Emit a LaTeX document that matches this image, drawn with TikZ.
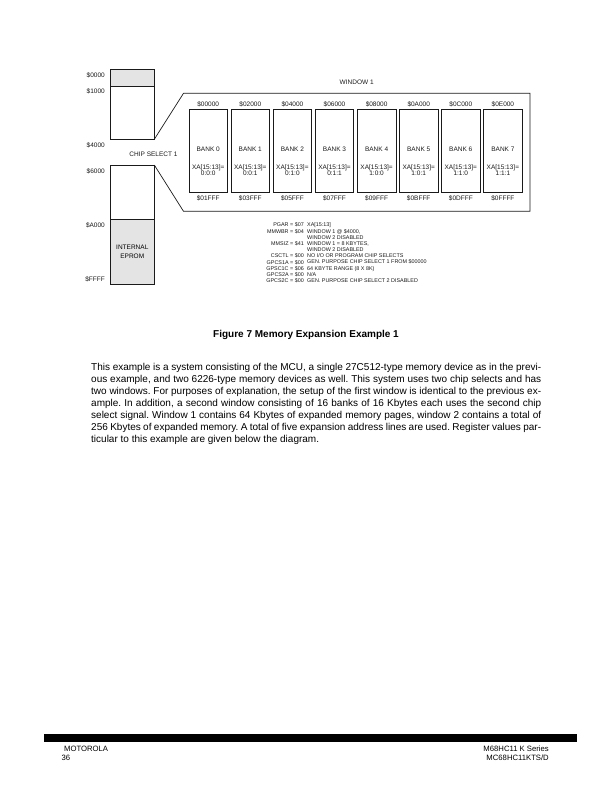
\documentclass[tikz,border=0pt]{standalone}
\usepackage{fontspec}
\setmainfont{Liberation Sans}
\usetikzlibrary{positioning}
\definecolor{shade}{HTML}{E4E4E4}
\definecolor{ink}{HTML}{1A1A1A}
\tikzset{
  memblk/.style={
    draw=ink, line width=0.6pt, fill=white,
    minimum width=44pt, inner sep=0pt, outer sep=0pt,
    align=center, font=\fontsize{6.5}{9.3}\selectfont
  },
  memtxt/.style={inner sep=0pt, text=ink, font=\fontsize{6.5}{7.5}\selectfont},
  bank/.style={
    draw=ink, line width=0.7pt,
    minimum width=38.5pt, minimum height=83.5pt,
    inner sep=0pt, outer sep=0pt, label distance=3.3pt
  },
  addrtop/.style={inner sep=0pt, text=ink, yshift=1.5pt, font=\fontsize{6.5}{7.5}\selectfont},
  addrbot/.style={inner sep=0pt, text=ink, yshift=-3pt, font=\fontsize{6.5}{7.5}\selectfont},
  banktxt/.style={inner sep=0pt, text=ink, align=center, font=\fontsize{6.5}{6.1}\selectfont},
  winline/.style={draw=ink, line width=0.7pt, line join=miter},
  regtxt/.style={inner sep=0pt, text=ink, font=\fontsize{5.4}{6.19}\selectfont},
  foot/.style={inner sep=0pt, font=\fontsize{7.7}{9}\selectfont}
}

\begin{document}
\begin{tikzpicture}[x=1pt, y=-1pt]
  \useasboundingbox (0,0) rectangle (612,792);
  % memory map
  \node[memblk, fill=shade, minimum height=16.7pt] (rom0) at (132.3,77.65) {};
  \node[memblk, minimum height=53.3pt, below=0pt of rom0] (ram1) {};
  \node[memblk, minimum height=54pt] (ram2) at (132.3,192) {};
  \node[memblk, fill=shade, line width=1pt, minimum height=65.7pt, below=0pt of ram2] (eprom) {INTERNAL\\EPROM};
  \node[memtxt, anchor=east] (a0000) at (105,75.7) {\$0000};
  \node[memtxt, anchor=east] (a1000) at (105,91.7) {\$1000};
  \node[memtxt, anchor=east] (a4000) at (105,145.7) {\$4000};
  \node[memtxt, anchor=east] (a6000) at (105,171.7) {\$6000};
  \node[memtxt, anchor=east] (aa000) at (105,225) {\$A000};
  \node[memtxt, anchor=east] (affff) at (105,279) {\$FFFF};
  \node[memtxt] (cs1) at (153.5,154) {CHIP SELECT 1};
  % window 1
  \coordinate (w1) at (183.5,93.3);
  \coordinate (w2) at (530,93.3);
  \coordinate (w3) at (530,211.3);
  \coordinate (w4) at (183.5,211.3);
  \draw[winline] (ram1.south east) -- (w1) -- (w2) -- (w3) -- (w4) -- (ram2.north east);
  \node[memtxt] (win1) at (356.7,82.7) {WINDOW 1};
  \node[bank, label={[addrtop]above:\$00000}, label={[addrbot]below:\$01FFF}, label={[banktxt, yshift=1.4pt]center:BANK 0}, label={[banktxt, yshift=-19.6pt]center:XA[15:13]=\\0:0:0}] (b0) at (208.2,150.75) {};
  \node[bank, right=3.6pt of b0, label={[addrtop]above:\$02000}, label={[addrbot]below:\$03FFF}, label={[banktxt, yshift=1.4pt]center:BANK 1}, label={[banktxt, yshift=-19.6pt]center:XA[15:13]=\\0:0:1}] (b1) {};
  \node[bank, right=3.6pt of b1, label={[addrtop]above:\$04000}, label={[addrbot]below:\$05FFF}, label={[banktxt, yshift=1.4pt]center:BANK 2}, label={[banktxt, yshift=-19.6pt]center:XA[15:13]=\\0:1:0}] (b2) {};
  \node[bank, right=3.6pt of b2, label={[addrtop]above:\$06000}, label={[addrbot]below:\$07FFF}, label={[banktxt, yshift=1.4pt]center:BANK 3}, label={[banktxt, yshift=-19.6pt]center:XA[15:13]=\\0:1:1}] (b3) {};
  \node[bank, right=3.6pt of b3, label={[addrtop]above:\$08000}, label={[addrbot]below:\$09FFF}, label={[banktxt, yshift=1.4pt]center:BANK 4}, label={[banktxt, yshift=-19.6pt]center:XA[15:13]=\\1:0:0}] (b4) {};
  \node[bank, right=3.6pt of b4, label={[addrtop]above:\$0A000}, label={[addrbot]below:\$0BFFF}, label={[banktxt, yshift=1.4pt]center:BANK 5}, label={[banktxt, yshift=-19.6pt]center:XA[15:13]=\\1:0:1}] (b5) {};
  \node[bank, right=3.6pt of b5, label={[addrtop]above:\$0C000}, label={[addrbot]below:\$0DFFF}, label={[banktxt, yshift=1.4pt]center:BANK 6}, label={[banktxt, yshift=-19.6pt]center:XA[15:13]=\\1:1:0}] (b6) {};
  \node[bank, right=3.6pt of b6, label={[addrtop]above:\$0E000}, label={[addrbot]below:\$0FFFF}, label={[banktxt, yshift=1.4pt]center:BANK 7}, label={[banktxt, yshift=-19.6pt]center:XA[15:13]=\\1:1:1}] (b7) {};
  % register values
  \node[regtxt, align=right, anchor=north east] (regname) at (304,222.7) {PGAR = \$07\\MMWBR = \$04\\~\\MMSIZ = \$41\\~\\CSCTL = \$00\\GPCS1A = \$00\\GPSC1C = \$06\\GPCS2A = \$00\\GPCS2C = \$00};
  \node[regtxt, align=left, anchor=north west] (regval) at (307,222.7) {XA[15:13]\\WINDOW 1 @ \$4000,\\WINDOW 2 DISABLED\\WINDOW 1 = 8 KBYTES,\\WINDOW 2 DISABLED\\NO I/O OR PROGRAM CHIP SELECTS\\GEN. PURPOSE CHIP SELECT 1 FROM \$00000\\64 KBYTE RANGE (8 X 8K)\\N/A\\GEN. PURPOSE CHIP SELECT 2 DISABLED};
  % caption and text
  \node[inner sep=0pt, font=\bfseries\fontsize{10}{12}\selectfont] (caption) at (306,335) {Figure 7 Memory Expansion Example 1};
  \node[inner sep=0pt, anchor=north west, text width=450pt, align=justify, font=\fontsize{10}{12}\selectfont] (body) at (91,363.5) {\frenchspacing\hyphenpenalty=10000\exhyphenpenalty=10000\tolerance=9999\spaceskip=0.278em plus 0.3em minus 0.12em This example is a system consisting of the MCU, a single 27C512-type memory device as in the previ-\linebreak ous example, and two 6226-type memory devices as well. This system uses two chip selects and has\linebreak two windows. For purposes of explanation, the setup of the first window is identical to the previous ex-\linebreak ample. In addition, a second window consisting of 16 banks of 16 Kbytes each uses the second chip\linebreak select signal. Window 1 contains 64 Kbytes of expanded memory pages, window 2 contains a total of\linebreak 256 Kbytes of expanded memory. A total of five expansion address lines are used. Register values par-\linebreak ticular to this example are given below the diagram.};
  % footer
  \node[fill=black, inner sep=0pt, minimum width=533.7pt, minimum height=7.7pt, anchor=north west] (bar) at (43.3,734) {};
  \node[foot, anchor=west] (moto) at (64,749) {MOTOROLA};
  \node[foot, anchor=west] (page) at (61.5,758) {36};
  \node[foot, anchor=east] (series) at (549,749) {M68HC11 K Series};
  \node[foot, anchor=east] (docno) at (549,758) {MC68HC11KTS/D};
\end{tikzpicture}
\end{document}
